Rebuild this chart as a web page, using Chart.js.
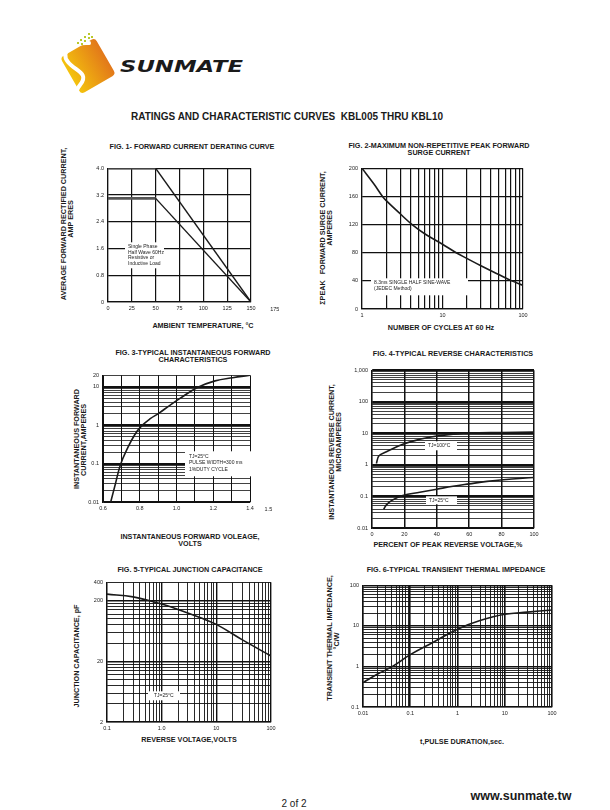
<!DOCTYPE html>
<html>
<head>
<meta charset="utf-8">
<title>KBL005 thru KBL10 - curves</title>
<script src="https://cdn.jsdelivr.net/npm/chart.js@4.4.1/dist/chart.umd.min.js"></script>
<style>
  body { margin: 0; background: #fff; }
  #page { position: relative; width: 610px; height: 810px; overflow: hidden; background: #fff;
          font-family: "Liberation Sans", Arial, sans-serif; color: #1a1a1a; }
  canvas { position: absolute; }
  .lbl { position: absolute; white-space: pre; font-weight: bold; font-size: 8px; line-height: 8px; }
  .h { transform: translate(-50%, -50%) scaleX(0.9); }
  .v { transform: translate(-50%, -50%) rotate(-90deg) scaleX(0.9); }
  #title { font-size: 10px; transform: translate(-50%, -50%); }
  #pageno { position: absolute; font-size: 10px; transform: translate(-50%, -50%); white-space: nowrap; }
  #site { position: absolute; font-size: 12.5px; font-weight: bold; transform: translate(-50%, -50%); white-space: nowrap; }
</style>
</head>
<body>
<div id="page">
  <!-- logo -->
  <svg width="200" height="80" style="position:absolute;left:50px;top:25px">
    <defs>
      <linearGradient id="lg" x1="0" y1="0" x2="1" y2="0">
        <stop offset="0" stop-color="#f4c20d"/>
        <stop offset="1" stop-color="#e2781a"/>
      </linearGradient>
    </defs>
    <g transform="translate(38,41) rotate(-30)">
      <rect x="-20" y="-21" width="40" height="42" rx="4" fill="url(#lg)"/>
    </g>
    <path d="M39 18 C24 17 9 26 18 37 C25 46 40 48 30 60 C27 64 26 66 28 69" stroke="#fff" stroke-width="4" fill="none" stroke-linecap="round"/>
    <g fill="#b9c92a">
      <rect x="38" y="8" width="2" height="2"/><rect x="34" y="11" width="2" height="2"/>
      <rect x="38" y="12" width="2" height="2"/><rect x="30" y="14" width="2" height="2"/>
      <rect x="34" y="15" width="2" height="2"/><rect x="27" y="17" width="2" height="2"/>
      <rect x="31" y="18" width="2" height="2"/><rect x="41" y="11" width="2" height="2"/>
    </g>
    <text x="70" y="47" font-family="DejaVu Sans" font-weight="bold" font-style="italic" font-size="15"
          textLength="123" lengthAdjust="spacingAndGlyphs" fill="#1a1a1a">SUNMATE</text>
  </svg>

  <div id="title" class="lbl" style="left:287px;top:117px">RATINGS AND CHARACTERISTIC CURVES  KBL005 THRU KBL10</div>

  <!-- figure titles -->
  <div class="lbl h" style="left:192px;top:147px">FIG. 1- FORWARD CURRENT DERATING CURVE</div>
  <div class="lbl h" style="left:439px;top:146px">FIG. 2-MAXIMUM NON-REPETITIVE PEAK FORWARD</div>
  <div class="lbl h" style="left:439px;top:153px">SURGE CURRENT</div>
  <div class="lbl h" style="left:193px;top:353px">FIG. 3-TYPICAL INSTANTANEOUS FORWARD</div>
  <div class="lbl h" style="left:193px;top:360px">CHARACTERISTICS</div>
  <div class="lbl h" style="left:453px;top:354px">FIG. 4-TYPICAL REVERSE CHARACTERISTICS</div>
  <div class="lbl h" style="left:190px;top:570px">FIG. 5-TYPICAL JUNCTION CAPACITANCE</div>
  <div class="lbl h" style="left:456px;top:570px">FIG. 6-TYPICAL TRANSIENT THERMAL IMPEDANCE</div>

  <!-- x axis titles -->
  <div class="lbl h" style="left:203px;top:326px">AMBIENT TEMPERATURE, °C</div>
  <div class="lbl h" style="left:441px;top:328px">NUMBER OF CYCLES AT 60 Hz</div>
  <div class="lbl h" style="left:190px;top:537px">INSTANTANEOUS FORWARD VOLEAGE,</div>
  <div class="lbl h" style="left:190px;top:544px">VOLTS</div>
  <div class="lbl h" style="left:448px;top:545px">PERCENT OF PEAK REVERSE VOLTAGE,%</div>
  <div class="lbl h" style="left:189px;top:740px">REVERSE VOLTAGE,VOLTS</div>
  <div class="lbl h" style="left:462px;top:742px">t,PULSE DURATION,sec.</div>

  <!-- y axis titles -->
  <div class="lbl v" style="left:64px;top:224px">AVERAGE FORWARD RECTIFIED CURRENT,</div>
  <div class="lbl v" style="left:71px;top:219px">AMP ERES</div>
  <div class="lbl v" style="left:323px;top:238px">ΣPEAK   FORWARD SURGE CURRENT,</div>
  <div class="lbl v" style="left:330px;top:228px">AMPERES</div>
  <div class="lbl v" style="left:77px;top:439px">INSTANTANEOUS FORWARD</div>
  <div class="lbl v" style="left:84px;top:440px">CURRENT,AMPERES</div>
  <div class="lbl v" style="left:332px;top:452px">INSTANTANEOUS REVERSE CURRENT,</div>
  <div class="lbl v" style="left:339px;top:442px">MICROAMPERES</div>
  <div class="lbl v" style="left:77px;top:656px">JUNCTION CAPACITANCE, pF</div>
  <div class="lbl v" style="left:330px;top:638px">TRANSIENT THERMAL IMPEDANCE,</div>
  <div class="lbl v" style="left:337px;top:641px">°C/W</div>

  <canvas id="fig1"></canvas>
  <canvas id="fig2"></canvas>
  <canvas id="fig3"></canvas>
  <canvas id="fig4"></canvas>
  <canvas id="fig5"></canvas>
  <canvas id="fig6"></canvas>

  <div id="pageno" style="left:294px;top:803px">2 of 2</div>
  <div id="site" style="left:521px;top:796px">www.sunmate.tw</div>
</div>

<script>
/* KBL005 thru KBL10 — ratings and characteristic curves */

// ---- data ----
// fig 1: derating
const FIG1_TEMP = [0, 50, 150];
const FIG1_AMP_HIGH = [4.0, 4.0, 0];
const FIG1_AMP_LOW = [3.1, 3.1, 0];
const FIG1_X_TICKS = [0, 25, 50, 75, 100, 125, 150, 175];
const FIG1_Y_TICKS = [0, 0.8, 1.6, 2.4, 3.2, 4.0];
const FIG1_Y_LABELS = ["0", "0.8", "1.6", "2.4", "3.2", "4.0"];

// fig 2: surge current
const FIG2_CYCLES = [1, 1.4, 1.8, 2, 3, 4.2, 6, 10, 14.8, 20, 30, 50, 72.6, 100];
const FIG2_AMPS = [200, 178, 160, 154, 135, 120, 107, 92, 80, 72, 61.5, 49, 40, 33.6];
const FIG2_X_LABELS_AT = [1, 10, 100];
const FIG2_X_LABELS = ["1", "10", "100"];
const FIG2_Y_TICKS = [0, 40, 80, 120, 160, 200];

// fig 3: forward characteristics
const FIG3_VOLTS = [0.642, 0.667, 0.695, 0.733, 0.771, 0.81, 0.857, 0.905, 0.962, 1.019, 1.114, 1.21, 1.305, 1.4];
const FIG3_AMPS = [0.01, 0.029, 0.094, 0.25, 0.55, 0.96, 1.48, 2.07, 3.26, 5.0, 9.6, 14.3, 17.3, 20];
const FIG3_X_GRID = [0.6, 0.7, 0.8, 0.9, 1.0, 1.1, 1.2, 1.3, 1.4];
const FIG3_X_LABELS_AT = [0.6, 0.8, 1.0, 1.2, 1.4, 1.5];
const FIG3_X_LABELS = ["0.6", "0.8", "1.0", "1.2", "1.4", "1.5"];
const FIG3_Y_LABELS_AT = [0.01, 0.1, 1, 10, 20];
const FIG3_Y_LABELS = ["0.01", "0.1", "1", "10", "20"];

// fig 4: reverse characteristics
const FIG4_PCT_100C = [2.7, 4.3, 8.9, 19, 29.5, 40, 50, 60, 80, 100];
const FIG4_UA_100C = [1.1, 1.95, 2.6, 4.5, 6.5, 8.3, 9.4, 10.3, 10.7, 11];
const FIG4_PCT_25C = [7.2, 8.9, 12, 19, 29.5, 40, 50, 60, 71, 81, 100];
const FIG4_UA_25C = [0.039, 0.054, 0.074, 0.107, 0.136, 0.17, 0.21, 0.25, 0.3, 0.34, 0.4];
const FIG4_X_TICKS = [0, 20, 40, 60, 80, 100];
const FIG4_Y_LABELS_AT = [0.01, 0.1, 1, 10, 100, 1000];
const FIG4_Y_LABELS = ["0.01", "0.1", "1", "10", "100", "1,000"];

// fig 5: junction capacitance
const FIG5_VOLTS = [0.1, 0.3, 1, 2, 5, 10, 30, 100];
const FIG5_PF = [255, 230, 175, 143, 105, 81, 45, 24.5];
const FIG5_X_LABELS_AT = [0.1, 1, 10, 100];
const FIG5_X_LABELS = ["0.1", "1.0", "10", "100"];
const FIG5_Y_LABELS_AT = [2, 20, 200, 400];
const FIG5_Y_LABELS = ["2", "20", "200", "400"];

// fig 6: transient thermal impedance
const FIG6_SEC = [0.01, 0.02, 0.042, 0.1, 0.3, 1, 3, 10, 30, 100];
const FIG6_CW = [0.4, 0.64, 1.0, 1.95, 3.9, 8.3, 13.5, 19.3, 21.8, 24.6];
const FIG6_X_LABELS_AT = [0.01, 0.1, 1, 10, 100];
const FIG6_X_LABELS = ["0.01", "0.1", "1", "10", "100"];
const FIG6_Y_LABELS_AT = [0.1, 1, 10, 100];
const FIG6_Y_LABELS = ["0.1", "1", "10", "100"];

// ---- layout ----
const FONT = '"Liberation Sans", Arial, sans-serif';
const INK = "#111";
const YW = 26, XH = 14, PT = 6, PR = 28;

const pts = (xs, ys) => xs.map((x, i) => ({ x, y: ys[i] }));

const same = (a, b) => (a === 0 ? b === 0 : Math.abs(a - b) / Math.abs(a) < 1e-6);

function labeler(at, text) {
  return (v) => {
    const i = at.findIndex((a) => same(a, v));
    return i < 0 ? "" : text[i];
  };
}

// log paper lines: m * 10^e for m = 1..9 (optionally scaled)
function logGrid(min, max, mult = 1) {
  const out = [];
  for (let e = -4; e <= 4; e++) {
    for (let m = 1; m <= 9; m++) {
      const v = +(mult * m * Math.pow(10, e)).toPrecision(6);
      if (v >= min * 0.9999 && v <= max * 1.0001) out.push(v);
    }
  }
  return [...new Set(out)].sort((a, b) => a - b);
}

const isDecade = (v, mult = 1) => Math.abs(Math.log10(v / mult) - Math.round(Math.log10(v / mult))) < 1e-6;

function axis(isY, type, min, max, gridVals, labelAt, labelText, widthFn) {
  return {
    type, min, max,
    afterBuildTicks: (s) => { s.ticks = gridVals.map((v) => ({ value: v })); },
    afterFit: (s) => { if (isY) s.width = YW; else s.height = XH; },
    ticks: {
      autoSkip: false, maxRotation: 0, minRotation: 0,
      padding: isY ? 4 : 3, color: "#222",
      font: { family: FONT, size: 5.5 },
      callback: labeler(labelAt, labelText),
    },
    grid: {
      color: INK, drawTicks: false,
      lineWidth: (c) => widthFn(c.tick ? c.tick.value : 0),
    },
    border: { color: INK, width: 1.2 },
  };
}

// white boxes with small notes, drawn over the grid
function notesPlugin(notes) {
  return {
    id: "notes",
    beforeDatasetsDraw(chart) {
      const { ctx, chartArea: a } = chart;
      ctx.save();
      for (const n of notes) {
        ctx.fillStyle = "#fff";
        ctx.fillRect(a.left + n.dx, a.top + n.dy, n.w, n.h);
        ctx.fillStyle = "#222";
        ctx.font = `5px ${FONT}`;
        ctx.textBaseline = "middle";
        n.lines.forEach((t, i) => {
          ctx.fillText(t, a.left + n.dx + (n.pad ?? 3), a.top + n.dy + (n.first ?? 4.5) + i * (n.lh ?? 6));
        });
      }
      ctx.restore();
    },
  };
}

// tick labels past the last grid line (175, 1.5)
function extraTicksPlugin(at, text, max) {
  return {
    id: "extraTicks",
    afterDraw(chart) {
      const s = chart.scales.x, ctx = chart.ctx;
      ctx.save();
      ctx.fillStyle = "#222";
      ctx.font = `5.5px ${FONT}`;
      ctx.textAlign = "center";
      ctx.textBaseline = "top";
      at.forEach((v, i) => {
        if (v > max) ctx.fillText(text[i], s.getPixelForValue(v), s.top + 5);
      });
      ctx.restore();
    },
  };
}

function curve(data, extra = {}) {
  return Object.assign({
    data, borderColor: "#1a1a1a", borderWidth: 1.6, pointRadius: 0,
    fill: false, tension: 0.4, cubicInterpolationMode: "default",
  }, extra);
}

function makeChart(id, box, x, y, datasets, plugins) {
  const cv = document.getElementById(id);
  cv.width = box.R - box.L + YW + PR;
  cv.height = box.B - box.T + PT + XH;
  cv.style.left = box.L - YW + "px";
  cv.style.top = box.T - PT + "px";
  return new Chart(cv, {
    type: "line",
    data: { datasets },
    options: {
      responsive: false, animation: false, events: [],
      layout: { padding: { left: 0, top: PT, right: PR, bottom: 0 } },
      plugins: { legend: { display: false }, tooltip: { enabled: false } },
      scales: { x, y },
    },
    plugins,
  });
}

// ---- fig 1 ----
makeChart("fig1", { L: 108, T: 167, R: 251, B: 302 },
  axis(false, "linear", 0, 150, FIG1_X_TICKS.filter((v) => v <= 150), FIG1_X_TICKS, FIG1_X_TICKS.map(String), () => 1.2),
  axis(true, "linear", 0, 4.0, FIG1_Y_TICKS, FIG1_Y_TICKS, FIG1_Y_LABELS, () => 1.2),
  [FIG1_AMP_HIGH, FIG1_AMP_LOW].map((ys) => curve(pts(FIG1_TEMP, ys), {
    tension: 0,
    segment: {
      borderWidth: (c) => (c.p0DataIndex === 0 ? 2.6 : 1.4),
      borderColor: (c) => (c.p0DataIndex === 0 ? "#555" : "#1a1a1a"),
    },
  })),
  [
    notesPlugin([{ dx: 17, dy: 74, w: 39, h: 26, lh: 5.5, first: 4.5,
      lines: ["Single Phase", "Half Wave 60Hz", "Resistive or", "Inductive Load"] }]),
    extraTicksPlugin(FIG1_X_TICKS, FIG1_X_TICKS.map(String), 150),
  ]);

// ---- fig 2 ----
makeChart("fig2", { L: 362, T: 167, R: 523, B: 309 },
  axis(false, "logarithmic", 1, 100, logGrid(1, 100), FIG2_X_LABELS_AT, FIG2_X_LABELS, () => 1.2),
  axis(true, "linear", 0, 200, FIG2_Y_TICKS, FIG2_Y_TICKS, FIG2_Y_TICKS.map(String), () => 1.2),
  [curve(pts(FIG2_CYCLES, FIG2_AMPS))],
  [notesPlugin([{ dx: 9, dy: 110, w: 97, h: 17, lh: 6, first: 4.7, pad: 3,
    lines: ["8.3ms SINGLE HALF SINE-WAVE", "(JEDEC Method)"] }])]);

// ---- fig 3 ----
makeChart("fig3", { L: 103, T: 374, R: 250, B: 502 },
  axis(false, "linear", 0.6, 1.4, FIG3_X_GRID, FIG3_X_LABELS_AT, FIG3_X_LABELS, () => 1.0),
  axis(true, "logarithmic", 0.01, 20, logGrid(0.01, 20), FIG3_Y_LABELS_AT, FIG3_Y_LABELS,
    (v) => (isDecade(v) ? 1.9 : 0.8)),
  [curve(pts(FIG3_VOLTS, FIG3_AMPS))],
  [
    notesPlugin([{ dx: 82, dy: 76, w: 69, h: 25, lh: 6.8, first: 5, pad: 4,
      lines: ["TJ=25°C", "PULSE WIDTH=300 ms", "1%DUTY CYCLE"] }]),
    extraTicksPlugin(FIG3_X_LABELS_AT, FIG3_X_LABELS, 1.4),
  ]);

// ---- fig 4 ----
makeChart("fig4", { L: 372, T: 369, R: 534, B: 528 },
  axis(false, "linear", 0, 100, FIG4_X_TICKS, FIG4_X_TICKS, FIG4_X_TICKS.map(String), () => 1.5),
  axis(true, "logarithmic", 0.01, 1000, logGrid(0.01, 1000), FIG4_Y_LABELS_AT, FIG4_Y_LABELS,
    (v) => (isDecade(v) ? 2.0 : 0.8)),
  [
    curve(pts(FIG4_PCT_100C, FIG4_UA_100C)),
    curve(pts(FIG4_PCT_25C, FIG4_UA_25C)),
  ],
  [notesPlugin([
    { dx: 53, dy: 71, w: 32, h: 9, first: 4.5, lines: ["TJ=100°C"] },
    { dx: 54, dy: 126, w: 31, h: 8, first: 4, lines: ["TJ=25°C"] },
  ])]);

// ---- fig 5 ----
makeChart("fig5", { L: 107, T: 581, R: 271, B: 722 },
  axis(false, "logarithmic", 0.1, 100, logGrid(0.1, 100), FIG5_X_LABELS_AT, FIG5_X_LABELS,
    (v) => (isDecade(v) ? 1.4 : 0.9)),
  axis(true, "logarithmic", 2, 400, logGrid(2, 400, 2), FIG5_Y_LABELS_AT, FIG5_Y_LABELS,
    (v) => (isDecade(v, 2) ? 1.4 : 0.9)),
  [curve(pts(FIG5_VOLTS, FIG5_PF))],
  [notesPlugin([{ dx: 41, dy: 109, w: 32, h: 9, first: 4.5, pad: 6, lines: ["TJ=25°C"] }])]);

// ---- fig 6 ----
makeChart("fig6", { L: 363, T: 584, R: 552, B: 707 },
  axis(false, "logarithmic", 0.01, 100, logGrid(0.01, 100), FIG6_X_LABELS_AT, FIG6_X_LABELS,
    (v) => (isDecade(v) ? 1.6 : 0.9)),
  axis(true, "logarithmic", 0.1, 100, logGrid(0.1, 100), FIG6_Y_LABELS_AT, FIG6_Y_LABELS,
    (v) => (isDecade(v) ? 1.6 : 0.9)),
  [curve(pts(FIG6_SEC, FIG6_CW))],
  []);
</script>
</body>
</html>
